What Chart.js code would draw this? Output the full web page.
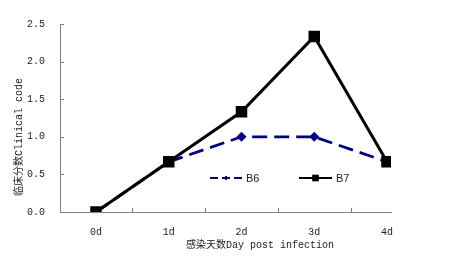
<!DOCTYPE html>
<html>
<head>
<meta charset="utf-8">
<script src="https://cdn.jsdelivr.net/npm/chart.js@4/dist/chart.umd.min.js"></script>
<style>
  html, body { margin: 0; padding: 0; background: #fff; }
  #wrap { width: 458px; height: 261px; }
</style>
</head>
<body>
<div id="wrap"><canvas id="c" width="458" height="261"></canvas></div>
<script>
// data
const days = ['0d', '1d', '2d', '3d', '4d'];
const b6 = [0, 0.667, 1.0, 1.0, 0.667];
const b7 = [0, 0.667, 1.333, 2.333, 0.667];
const yTitle = '临床分数Clinical code';
const xTitle = '感染天数Day post infection';

const FONT = '"Liberation Mono", "Noto Sans CJK SC", monospace';

// tick marks pointing into the plot, axis titles and the in-plot legend
const extras = {
  id: 'extras',
  afterDraw(chart) {
    const ctx = chart.ctx;
    const xs = chart.scales.x, ys = chart.scales.y;
    const a = chart.chartArea;
    ctx.save();
    ctx.strokeStyle = '#808080';
    ctx.lineWidth = 1;
    ctx.beginPath();
    for (let i = 0; i < days.length - 1; i++) {
      const px = Math.round(xs.getPixelForValue(i + 0.5)) + 0.5;
      ctx.moveTo(px, a.bottom);
      ctx.lineTo(px, a.bottom - 4);
    }
    for (let v = 0; v <= 2.5; v += 0.5) {
      const py = Math.round(ys.getPixelForValue(v)) + 0.5;
      ctx.moveTo(a.left, py);
      ctx.lineTo(a.left + 4, py);
    }
    ctx.stroke();

    ctx.fillStyle = '#222';
    ctx.font = '10px ' + FONT;
    ctx.textAlign = 'center';
    ctx.textBaseline = 'middle';
    ctx.fillText(xTitle, 260, 245);
    ctx.translate(19, 137);
    ctx.rotate(-Math.PI / 2);
    ctx.fillText(yTitle, 0, 0);
    ctx.restore();

    // legend
    ctx.save();
    const items = [
      { ds: chart.data.datasets[0], x0: 210, x1: 242 },
      { ds: chart.data.datasets[1], x0: 299, x1: 332 }
    ];
    const ly = 178;
    items.forEach(it => {
      ctx.strokeStyle = it.ds.borderColor;
      ctx.lineWidth = 2;
      ctx.setLineDash(it.ds.borderDash ? [8, 4] : []);
      ctx.beginPath();
      ctx.moveTo(it.x0, ly);
      ctx.lineTo(it.x1, ly);
      ctx.stroke();
      ctx.setLineDash([]);
      Chart.helpers.drawPoint(ctx, {
        pointStyle: it.ds.pointStyle,
        radius: it.ds.pointRadius * 0.75,
        borderWidth: 0
      }, (it.x0 + it.x1) / 2, ly);
      ctx.fillStyle = it.ds.pointBackgroundColor;
      ctx.fill();
      ctx.fillStyle = '#222';
      ctx.font = '11px "Liberation Sans", sans-serif';
      ctx.textAlign = 'left';
      ctx.textBaseline = 'middle';
      ctx.fillText(it.ds.label, it.x1 + 4, ly + 1);
    });
    ctx.restore();
  }
};

new Chart(document.getElementById('c'), {
  type: 'line',
  data: {
    datasets: [
      {
        label: 'B6',
        data: b6.map((v, i) => ({ x: i, y: v })),
        borderColor: '#000080',
        backgroundColor: '#000080',
        pointBackgroundColor: '#000080',
        pointBorderColor: '#000080',
        borderWidth: 2.8,
        borderDash: [15, 7],
        pointStyle: 'rectRot',
        pointRadius: 3,
        tension: 0,
        order: 1
      },
      {
        label: 'B7',
        data: b7.map((v, i) => ({ x: i, y: v })),
        borderColor: '#000000',
        backgroundColor: '#000000',
        pointBackgroundColor: '#000000',
        pointBorderColor: '#000000',
        borderWidth: 3,
        pointStyle: 'rect',
        pointRadius: 6,
        tension: 0,
        order: 0
      }
    ]
  },
  options: {
    responsive: false,
    animation: false,
    layout: { padding: { left: 0, right: 67, top: 24, bottom: 0 } },
    plugins: { legend: { display: false }, tooltip: { enabled: false } },
    scales: {
      x: {
        type: 'linear',
        min: -0.495,
        max: 4.055,
        afterBuildTicks: s => { s.ticks = days.map((_, i) => ({ value: i })); },
        afterFit: s => { s.height = 49; },
        grid: { display: false, drawTicks: false },
        border: { display: true, color: '#808080', width: 1 },
        ticks: {
          padding: 14,
          color: '#222',
          font: { family: FONT, size: 10 },
          callback: v => days[v]
        }
      },
      y: {
        min: 0,
        max: 2.5,
        afterFit: s => { s.width = 60; },
        grid: { display: false, drawTicks: false },
        border: { display: true, color: '#808080', width: 1 },
        ticks: {
          stepSize: 0.5,
          padding: 15,
          color: '#222',
          font: { family: FONT, size: 10 },
          callback: v => v.toFixed(1)
        }
      }
    }
  },
  plugins: [extras]
});
</script>
</body>
</html>
